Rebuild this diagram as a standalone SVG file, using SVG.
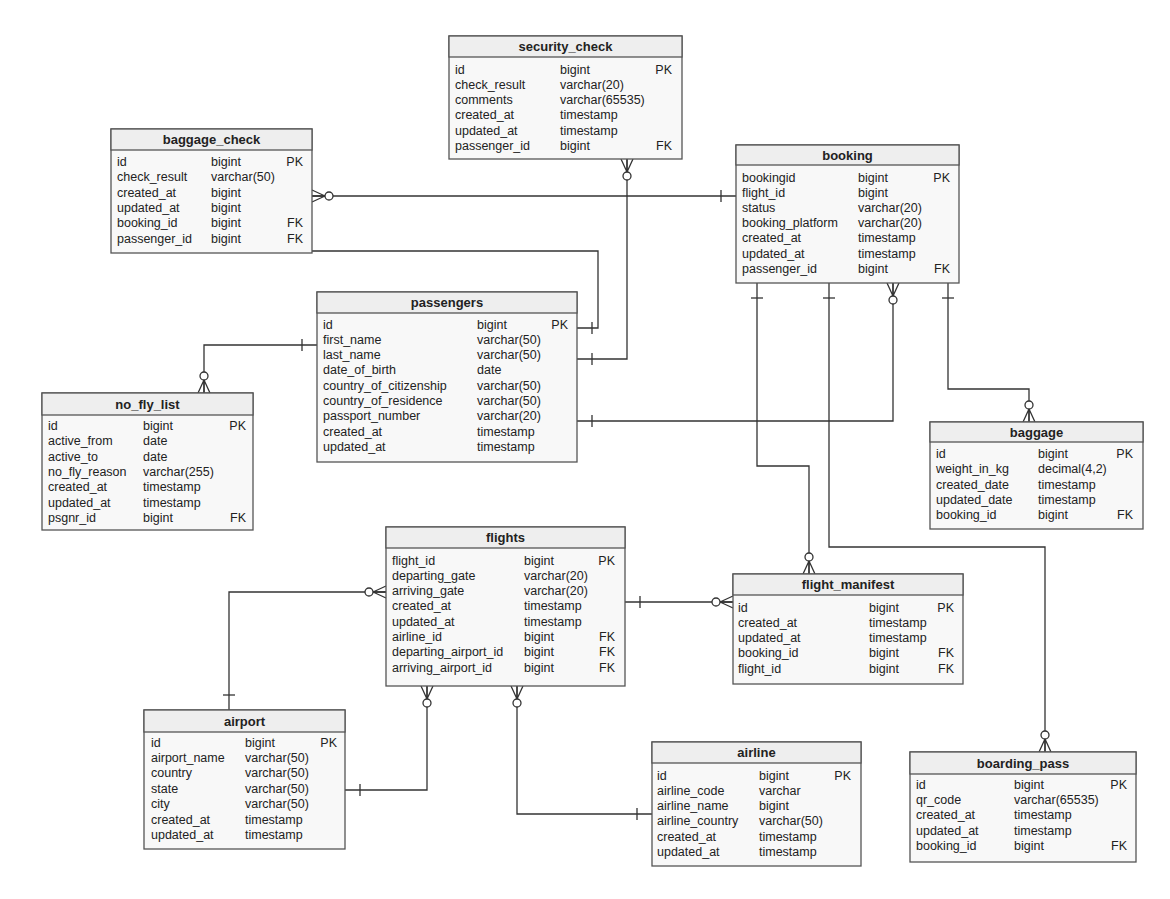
<svg xmlns="http://www.w3.org/2000/svg" width="1170" height="899" viewBox="0 0 1170 899">
<style>
  .bg{fill:#ffffff}
  .box{fill:#f8f8f8;stroke:#555;stroke-width:1.3}
  .hdr{fill:#eeeeee;stroke:#555;stroke-width:1.3}
  .title{font-family:"Liberation Sans",Arial,sans-serif;font-size:13px;font-weight:bold;fill:#222;text-anchor:middle}
  .t{font-family:"Liberation Sans",Arial,sans-serif;font-size:12.5px;fill:#222}
  .k{font-family:"Liberation Sans",Arial,sans-serif;font-size:12.5px;fill:#222;text-anchor:end}
  .conn{fill:none;stroke:#333;stroke-width:1.3}
  .mk{fill:#fff;stroke:#333;stroke-width:1.3}
</style>
<defs>
  <marker id="zeroMany" markerUnits="userSpaceOnUse" viewBox="-26 -10 28 20" refX="0" refY="0" markerWidth="28" markerHeight="20" orient="auto-start-reverse" overflow="visible">
    <path class="mk" d="M-13,0 L0,-6 M-13,0 L0,0 M-13,0 L0,6" fill="none"/>
    <circle class="mk" cx="-17" cy="0" r="4"/>
  </marker>
  <marker id="one" markerUnits="userSpaceOnUse" viewBox="-26 -10 28 20" refX="0" refY="0" markerWidth="28" markerHeight="20" orient="auto-start-reverse" overflow="visible">
    <path class="mk" d="M-15,-6 L-15,6"/>
  </marker>
</defs>
<rect class="bg" x="0" y="0" width="1170" height="899"/>

<g id="connectors">
  <path class="conn" d="M312,196 H736" marker-start="url(#zeroMany)" marker-end="url(#one)"/>
  <path class="conn" d="M627,159 V359 H577" marker-start="url(#zeroMany)" marker-end="url(#one)"/>
  <path class="conn" d="M312,251 H598 V328 H577" marker-end="url(#one)"/>
  <path class="conn" d="M317,345 H204 V393" marker-start="url(#one)" marker-end="url(#zeroMany)"/>
  <path class="conn" d="M757,283 V466 H809 V574" marker-start="url(#one)" marker-end="url(#zeroMany)"/>
  <path class="conn" d="M829,283 V547 H1045 V752" marker-start="url(#one)" marker-end="url(#zeroMany)"/>
  <path class="conn" d="M893,283 V421 H577" marker-start="url(#zeroMany)" marker-end="url(#one)"/>
  <path class="conn" d="M948,283 V389 H1029 V422" marker-start="url(#one)" marker-end="url(#zeroMany)"/>
  <path class="conn" d="M386,592 H229 V710" marker-start="url(#zeroMany)" marker-end="url(#one)"/>
  <path class="conn" d="M427,686 V790 H345" marker-start="url(#zeroMany)" marker-end="url(#one)"/>
  <path class="conn" d="M517,686 V814 H652" marker-start="url(#zeroMany)" marker-end="url(#one)"/>
  <path class="conn" d="M625,602 H733" marker-start="url(#one)" marker-end="url(#zeroMany)"/>
</g>

<g id="security_check">
  <rect class="box" x="449" y="36" width="233" height="123"/>
  <rect class="hdr" x="449" y="36" width="233" height="21"/>
  <text class="title" x="565.5" y="51">security_check</text>
  <text class="t" x="455" y="73.5">id</text><text class="t" x="560" y="73.5">bigint</text><text class="k" x="672" y="73.5">PK</text>
  <text class="t" x="455" y="88.8">check_result</text><text class="t" x="560" y="88.8">varchar(20)</text>
  <text class="t" x="455" y="104.1">comments</text><text class="t" x="560" y="104.1">varchar(65535)</text>
  <text class="t" x="455" y="119.4">created_at</text><text class="t" x="560" y="119.4">timestamp</text>
  <text class="t" x="455" y="134.7">updated_at</text><text class="t" x="560" y="134.7">timestamp</text>
  <text class="t" x="455" y="150">passenger_id</text><text class="t" x="560" y="150">bigint</text><text class="k" x="672" y="150">FK</text>
</g>

<g id="baggage_check">
  <rect class="box" x="111" y="129" width="201" height="124"/>
  <rect class="hdr" x="111" y="129" width="201" height="21"/>
  <text class="title" x="211.5" y="144">baggage_check</text>
  <text class="t" x="117" y="166">id</text><text class="t" x="211" y="166">bigint</text><text class="k" x="303" y="166">PK</text>
  <text class="t" x="117" y="181.3">check_result</text><text class="t" x="211" y="181.3">varchar(50)</text>
  <text class="t" x="117" y="196.6">created_at</text><text class="t" x="211" y="196.6">bigint</text>
  <text class="t" x="117" y="211.9">updated_at</text><text class="t" x="211" y="211.9">bigint</text>
  <text class="t" x="117" y="227.2">booking_id</text><text class="t" x="211" y="227.2">bigint</text><text class="k" x="303" y="227.2">FK</text>
  <text class="t" x="117" y="242.5">passenger_id</text><text class="t" x="211" y="242.5">bigint</text><text class="k" x="303" y="242.5">FK</text>
</g>

<g id="booking">
  <rect class="box" x="736" y="145" width="223" height="138"/>
  <rect class="hdr" x="736" y="145" width="223" height="20"/>
  <text class="title" x="847.5" y="159.5">booking</text>
  <text class="t" x="742" y="181.5">bookingid</text><text class="t" x="858" y="181.5">bigint</text><text class="k" x="950" y="181.5">PK</text>
  <text class="t" x="742" y="196.7">flight_id</text><text class="t" x="858" y="196.7">bigint</text>
  <text class="t" x="742" y="211.9">status</text><text class="t" x="858" y="211.9">varchar(20)</text>
  <text class="t" x="742" y="227.1">booking_platform</text><text class="t" x="858" y="227.1">varchar(20)</text>
  <text class="t" x="742" y="242.3">created_at</text><text class="t" x="858" y="242.3">timestamp</text>
  <text class="t" x="742" y="257.5">updated_at</text><text class="t" x="858" y="257.5">timestamp</text>
  <text class="t" x="742" y="272.7">passenger_id</text><text class="t" x="858" y="272.7">bigint</text><text class="k" x="950" y="272.7">FK</text>
</g>

<g id="passengers">
  <rect class="box" x="317" y="292" width="260" height="170"/>
  <rect class="hdr" x="317" y="292" width="260" height="21"/>
  <text class="title" x="447" y="307">passengers</text>
  <text class="t" x="323" y="328.5">id</text><text class="t" x="477" y="328.5">bigint</text><text class="k" x="568" y="328.5">PK</text>
  <text class="t" x="323" y="343.8">first_name</text><text class="t" x="477" y="343.8">varchar(50)</text>
  <text class="t" x="323" y="359.1">last_name</text><text class="t" x="477" y="359.1">varchar(50)</text>
  <text class="t" x="323" y="374.4">date_of_birth</text><text class="t" x="477" y="374.4">date</text>
  <text class="t" x="323" y="389.7">country_of_citizenship</text><text class="t" x="477" y="389.7">varchar(50)</text>
  <text class="t" x="323" y="405">country_of_residence</text><text class="t" x="477" y="405">varchar(50)</text>
  <text class="t" x="323" y="420.3">passport_number</text><text class="t" x="477" y="420.3">varchar(20)</text>
  <text class="t" x="323" y="435.6">created_at</text><text class="t" x="477" y="435.6">timestamp</text>
  <text class="t" x="323" y="450.9">updated_at</text><text class="t" x="477" y="450.9">timestamp</text>
</g>

<g id="no_fly_list">
  <rect class="box" x="42" y="393" width="211" height="137"/>
  <rect class="hdr" x="42" y="393" width="211" height="22"/>
  <text class="title" x="147.5" y="408.5">no_fly_list</text>
  <text class="t" x="48" y="430">id</text><text class="t" x="143" y="430">bigint</text><text class="k" x="246" y="430">PK</text>
  <text class="t" x="48" y="445.3">active_from</text><text class="t" x="143" y="445.3">date</text>
  <text class="t" x="48" y="460.6">active_to</text><text class="t" x="143" y="460.6">date</text>
  <text class="t" x="48" y="475.9">no_fly_reason</text><text class="t" x="143" y="475.9">varchar(255)</text>
  <text class="t" x="48" y="491.2">created_at</text><text class="t" x="143" y="491.2">timestamp</text>
  <text class="t" x="48" y="506.5">updated_at</text><text class="t" x="143" y="506.5">timestamp</text>
  <text class="t" x="48" y="521.8">psgnr_id</text><text class="t" x="143" y="521.8">bigint</text><text class="k" x="246" y="521.8">FK</text>
</g>

<g id="baggage">
  <rect class="box" x="930" y="422" width="213" height="107"/>
  <rect class="hdr" x="930" y="422" width="213" height="20"/>
  <text class="title" x="1036.5" y="436.5">baggage</text>
  <text class="t" x="936" y="458">id</text><text class="t" x="1038" y="458">bigint</text><text class="k" x="1133" y="458">PK</text>
  <text class="t" x="936" y="473.3">weight_in_kg</text><text class="t" x="1038" y="473.3">decimal(4,2)</text>
  <text class="t" x="936" y="488.6">created_date</text><text class="t" x="1038" y="488.6">timestamp</text>
  <text class="t" x="936" y="503.9">updated_date</text><text class="t" x="1038" y="503.9">timestamp</text>
  <text class="t" x="936" y="519.2">booking_id</text><text class="t" x="1038" y="519.2">bigint</text><text class="k" x="1133" y="519.2">FK</text>
</g>

<g id="flights">
  <rect class="box" x="386" y="527" width="239" height="159"/>
  <rect class="hdr" x="386" y="527" width="239" height="21"/>
  <text class="title" x="505.5" y="542">flights</text>
  <text class="t" x="392" y="564.5">flight_id</text><text class="t" x="524" y="564.5">bigint</text><text class="k" x="615" y="564.5">PK</text>
  <text class="t" x="392" y="579.8">departing_gate</text><text class="t" x="524" y="579.8">varchar(20)</text>
  <text class="t" x="392" y="595.1">arriving_gate</text><text class="t" x="524" y="595.1">varchar(20)</text>
  <text class="t" x="392" y="610.4">created_at</text><text class="t" x="524" y="610.4">timestamp</text>
  <text class="t" x="392" y="625.7">updated_at</text><text class="t" x="524" y="625.7">timestamp</text>
  <text class="t" x="392" y="641">airline_id</text><text class="t" x="524" y="641">bigint</text><text class="k" x="615" y="641">FK</text>
  <text class="t" x="392" y="656.3">departing_airport_id</text><text class="t" x="524" y="656.3">bigint</text><text class="k" x="615" y="656.3">FK</text>
  <text class="t" x="392" y="671.6">arriving_airport_id</text><text class="t" x="524" y="671.6">bigint</text><text class="k" x="615" y="671.6">FK</text>
</g>

<g id="flight_manifest">
  <rect class="box" x="733" y="574" width="230" height="110"/>
  <rect class="hdr" x="733" y="574" width="230" height="21"/>
  <text class="title" x="848" y="589">flight_manifest</text>
  <text class="t" x="738" y="611.5">id</text><text class="t" x="869" y="611.5">bigint</text><text class="k" x="954" y="611.5">PK</text>
  <text class="t" x="738" y="626.8">created_at</text><text class="t" x="869" y="626.8">timestamp</text>
  <text class="t" x="738" y="642.1">updated_at</text><text class="t" x="869" y="642.1">timestamp</text>
  <text class="t" x="738" y="657.4">booking_id</text><text class="t" x="869" y="657.4">bigint</text><text class="k" x="954" y="657.4">FK</text>
  <text class="t" x="738" y="672.7">flight_id</text><text class="t" x="869" y="672.7">bigint</text><text class="k" x="954" y="672.7">FK</text>
</g>

<g id="airport">
  <rect class="box" x="144" y="710" width="201" height="139"/>
  <rect class="hdr" x="144" y="710" width="201" height="22"/>
  <text class="title" x="244.5" y="725.5">airport</text>
  <text class="t" x="151" y="746.5">id</text><text class="t" x="245" y="746.5">bigint</text><text class="k" x="337" y="746.5">PK</text>
  <text class="t" x="151" y="761.9">airport_name</text><text class="t" x="245" y="761.9">varchar(50)</text>
  <text class="t" x="151" y="777.3">country</text><text class="t" x="245" y="777.3">varchar(50)</text>
  <text class="t" x="151" y="792.7">state</text><text class="t" x="245" y="792.7">varchar(50)</text>
  <text class="t" x="151" y="808.1">city</text><text class="t" x="245" y="808.1">varchar(50)</text>
  <text class="t" x="151" y="823.5">created_at</text><text class="t" x="245" y="823.5">timestamp</text>
  <text class="t" x="151" y="838.9">updated_at</text><text class="t" x="245" y="838.9">timestamp</text>
</g>

<g id="airline">
  <rect class="box" x="652" y="742" width="209" height="124"/>
  <rect class="hdr" x="652" y="742" width="209" height="21"/>
  <text class="title" x="756.5" y="757">airline</text>
  <text class="t" x="657" y="779.5">id</text><text class="t" x="759" y="779.5">bigint</text><text class="k" x="851" y="779.5">PK</text>
  <text class="t" x="657" y="794.8">airline_code</text><text class="t" x="759" y="794.8">varchar</text>
  <text class="t" x="657" y="810.1">airline_name</text><text class="t" x="759" y="810.1">bigint</text>
  <text class="t" x="657" y="825.4">airline_country</text><text class="t" x="759" y="825.4">varchar(50)</text>
  <text class="t" x="657" y="840.7">created_at</text><text class="t" x="759" y="840.7">timestamp</text>
  <text class="t" x="657" y="856">updated_at</text><text class="t" x="759" y="856">timestamp</text>
</g>

<g id="boarding_pass">
  <rect class="box" x="910" y="752" width="226" height="110"/>
  <rect class="hdr" x="910" y="752" width="226" height="22"/>
  <text class="title" x="1023" y="767.5">boarding_pass</text>
  <text class="t" x="916" y="789">id</text><text class="t" x="1014" y="789">bigint</text><text class="k" x="1127" y="789">PK</text>
  <text class="t" x="916" y="804.2">qr_code</text><text class="t" x="1014" y="804.2">varchar(65535)</text>
  <text class="t" x="916" y="819.4">created_at</text><text class="t" x="1014" y="819.4">timestamp</text>
  <text class="t" x="916" y="834.6">updated_at</text><text class="t" x="1014" y="834.6">timestamp</text>
  <text class="t" x="916" y="849.8">booking_id</text><text class="t" x="1014" y="849.8">bigint</text><text class="k" x="1127" y="849.8">FK</text>
</g>
</svg>
